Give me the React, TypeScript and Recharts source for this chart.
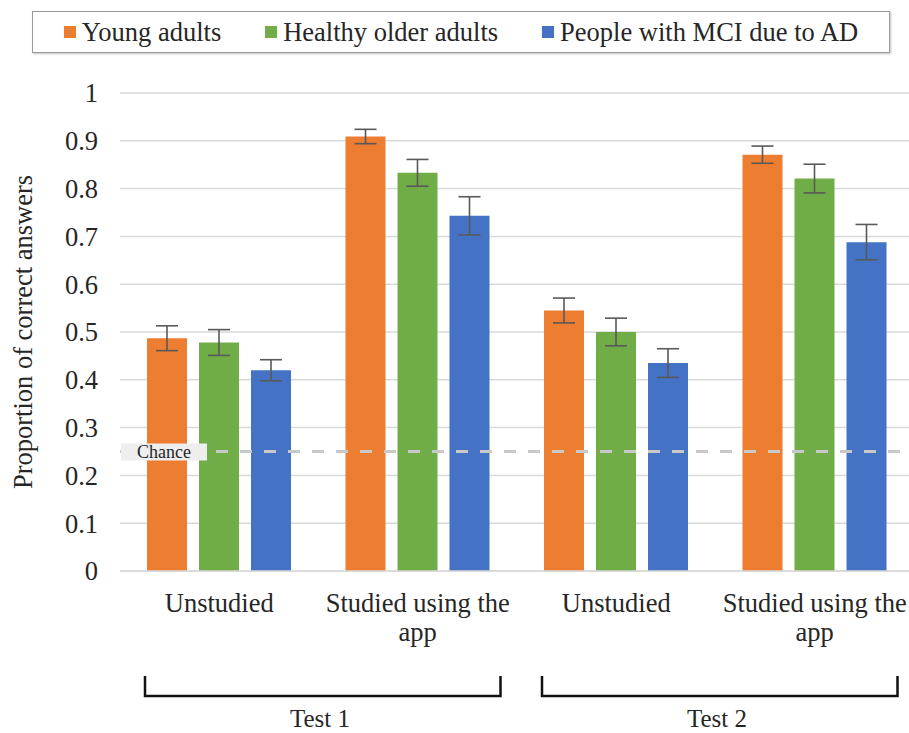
import React from "react";
import {
  BarChart,
  Bar,
  XAxis,
  YAxis,
  CartesianGrid,
  ErrorBar,
  ReferenceLine,
} from "recharts";

const FONT = '"Liberation Serif", "Times New Roman", serif';

const categories = ["Unstudied", "Studied using the app", "Unstudied", "Studied using the app"];
const tests = ["Test 1", "Test 1", "Test 2", "Test 2"];
const young = [0.487, 0.909, 0.545, 0.871];
const youngErr = [0.026, 0.015, 0.026, 0.018];
const older = [0.478, 0.833, 0.5, 0.821];
const olderErr = [0.027, 0.028, 0.029, 0.03];
const mci = [0.42, 0.743, 0.435, 0.688];
const mciErr = [0.022, 0.04, 0.03, 0.037];
const yTicks = [0, 0.1, 0.2, 0.3, 0.4, 0.5, 0.6, 0.7, 0.8, 0.9, 1];
const chanceLevel = 0.25;

const series = [
  { key: "young", errKey: "youngErr", name: "Young adults", color: "#ED7D31" },
  { key: "older", errKey: "olderErr", name: "Healthy older adults", color: "#70AD47" },
  { key: "mci", errKey: "mciErr", name: "People with MCI due to AD", color: "#4472C4" },
];

const data = categories.map((c, i) => ({
  category: c,
  test: tests[i],
  young: young[i],
  youngErr: youngErr[i],
  older: older[i],
  olderErr: olderErr[i],
  mci: mci[i],
  mciErr: mciErr[i],
}));

// simple word wrap by character budget
const wrapWords = (s: string, maxChars: number): string[] => {
  const words = String(s).split(" ");
  const lines: string[] = [];
  let cur = "";
  words.forEach((w) => {
    const next = cur ? cur + " " + w : w;
    if (next.length > maxChars && cur) {
      lines.push(cur);
      cur = w;
    } else {
      cur = next;
    }
  });
  if (cur) lines.push(cur);
  return lines;
};

const CatTick = (props: any) => {
  const { x, y, payload } = props;
  const lines = wrapWords(payload.value, 17);
  return (
    <text
      x={x}
      y={y + 41}
      textAnchor="middle"
      style={{ fontSize: 26.5, fontFamily: FONT }}
      fill="#262626"
    >
      {lines.map((l, i) => (
        <tspan key={i} x={x} dy={i === 0 ? 0 : 29}>
          {l}
        </tspan>
      ))}
    </text>
  );
};

const TestTick = (props: any) => {
  const { x, y, payload } = props;
  return (
    <g>
      <path
        d={`M${x - 173.5},${y + 45} V${y + 65} H${x + 182} V${y + 45}`}
        stroke="#111"
        strokeWidth={2.5}
        fill="none"
      />
      <text
        x={x + 1.5}
        y={y + 96}
        textAnchor="middle"
        style={{ fontSize: 25, fontFamily: FONT }}
        fill="#262626"
      >
        {payload.value}
      </text>
    </g>
  );
};

const ChanceLabel = (props: any) => {
  const vb = props.viewBox || {};
  const x = vb.x ?? 0;
  const y = vb.y ?? 0;
  return (
    <g>
      <rect x={x + 1} y={y - 8} width={86} height={17} fill="#eeeeee" />
      <text
        x={x + 44}
        y={y + 6}
        textAnchor="middle"
        style={{ fontSize: 18, fontFamily: FONT }}
        fill="#262626"
      >
        Chance
      </text>
    </g>
  );
};

const YLabel = (props: any) => {
  const vb = props.viewBox || {};
  const cy = (vb.y ?? 93) + (vb.height ?? 478) / 2;
  const cx = 23;
  return (
    <text
      x={cx}
      y={cy}
      transform={`rotate(-90 ${cx} ${cy})`}
      textAnchor="middle"
      dominantBaseline="central"
      style={{ fontSize: 26.5, fontFamily: FONT }}
      fill="#262626"
    >
      Proportion of correct answers
    </text>
  );
};

export default function App() {
  return (
    <div
      style={{
        position: "absolute",
        left: 0,
        top: 0,
        width: 909,
        height: 733,
        overflow: "hidden",
        background: "#ffffff",
      }}
    >
      <BarChart
        width={914}
        height={733}
        data={data}
        margin={{ top: 93, right: 0, bottom: 0, left: 0 }}
        barGap={12}
      >
        <CartesianGrid vertical={false} stroke="#d9d9d9" strokeWidth={1.5} />
        <XAxis
          dataKey="category"
          height={60}
          axisLine={{ stroke: "#d9d9d9", strokeWidth: 1.5 }}
          tickLine={false}
          tickSize={0}
          tickMargin={0}
          interval={0}
          tick={<CatTick />}
        />
        <XAxis
          xAxisId="test"
          dataKey="test"
          allowDuplicatedCategory={false}
          height={102}
          axisLine={false}
          tickLine={false}
          tickSize={0}
          tickMargin={0}
          interval={0}
          tick={<TestTick />}
        />
        <YAxis
          width={120}
          domain={[0, 1]}
          ticks={yTicks}
          interval={0}
          axisLine={false}
          tickLine={false}
          tickSize={0}
          tickMargin={22}
          tickFormatter={(v: number) => String(v)}
          tick={{ fontSize: 26.5, fontFamily: FONT, fill: "#262626" }}
          label={<YLabel />}
        />
        {series.map((s) => (
          <Bar
            key={s.key}
            dataKey={s.key}
            name={s.name}
            fill={s.color}
            barSize={40}
            isAnimationActive={false}
          >
            <ErrorBar
              dataKey={s.errKey}
              width={11}
              stroke="#595959"
              strokeWidth={1.6}
              direction="y"
            />
          </Bar>
        ))}
        <ReferenceLine
          y={chanceLevel}
          stroke="#c8c8c8"
          strokeWidth={3}
          strokeDasharray="12 12"
          label={<ChanceLabel />}
        />
      </BarChart>
      <div
        style={{
          position: "absolute",
          left: 32,
          top: 11,
          width: 856,
          height: 40,
          border: "1px solid #9a9a9a",
          boxShadow: "1px 1px 2px rgba(0,0,0,0.25)",
          display: "flex",
          alignItems: "center",
          justifyContent: "center",
          gap: 44,
          fontFamily: FONT,
          fontSize: 26.5,
          color: "#262626",
          background: "#ffffff",
        }}
      >
        {series.map((s) => (
          <div key={s.key} style={{ display: "flex", alignItems: "center", gap: 6 }}>
            <span
              style={{ display: "inline-block", width: 12, height: 12, background: s.color }}
            />
            <span style={{ lineHeight: "30px", whiteSpace: "nowrap" }}>{s.name}</span>
          </div>
        ))}
      </div>
    </div>
  );
}
